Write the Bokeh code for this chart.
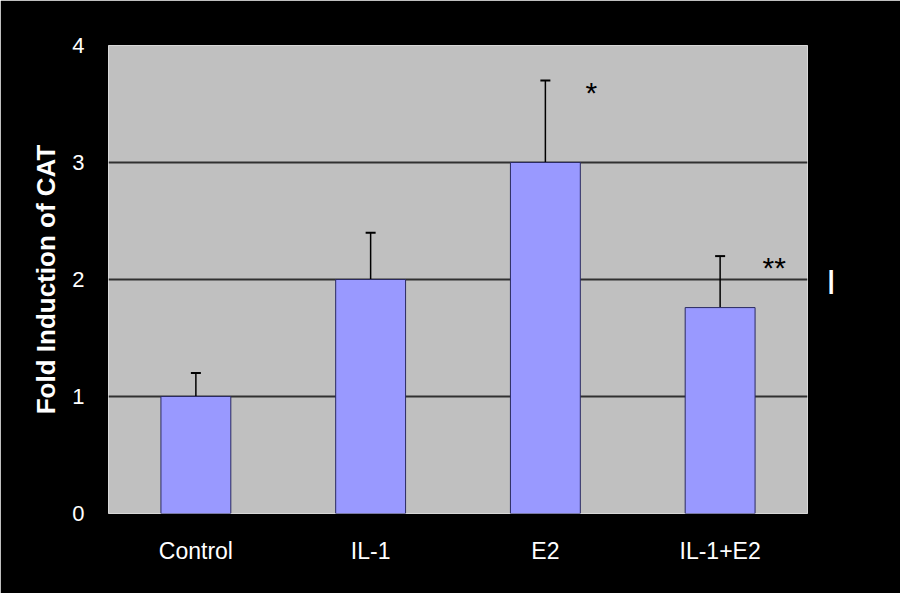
from bokeh.plotting import figure
from bokeh.models import ColumnDataSource, Whisker, TeeHead, LinearAxis, FixedTicker
from bokeh.core.properties import value
from bokeh.embed import file_html
from bokeh.resources import INLINE

categories = ["Control", "IL-1", "E2", "IL-1+E2"]
fold_induction = [1.0, 2.0, 3.0, 1.76]
error_upper = [1.2, 2.4, 3.7, 2.2]
sig_categories = ["E2", "IL-1+E2"]
sig_marks = ["*", "**"]
sig_y = [3.63, 2.14]
y_ticks = [0, 1, 2, 3, 4]

src = ColumnDataSource(dict(cat=categories, val=fold_induction, up=error_upper))

p = figure(width=900, height=593, x_range=categories, y_range=(0, 4),
           output_backend="svg", toolbar_location=None,
           background_fill_color="#c0c0c0", border_fill_color="black",
           min_border_left=108, min_border_right=93, min_border_top=45, min_border_bottom=80)

p.vbar(x="cat", top="val", width=0.4, source=src, fill_color="#9999ff",
       line_color="#2a2a60", line_width=1)

w = Whisker(base="cat", upper="up", lower="val", source=src,
            line_color="black", line_width=1.5,
            upper_head=TeeHead(size=10, line_color="black", line_width=2), lower_head=None)
p.add_layout(w)

sig_src = ColumnDataSource(dict(cat=sig_categories, y=sig_y, txt=sig_marks))
sig_src.data["dx"] = [46, 54]
p.text(x="cat", y="y", text="txt", source=sig_src, x_offset="dx",
       text_align="center", text_baseline="middle", text_color="black",
       text_font=value("Liberation Sans"), text_font_size="30px", y_offset=4)

p.outline_line_color = "#d8d8d8"
p.xgrid.grid_line_color = None
p.ygrid.grid_line_color = "#303030"
p.ygrid.grid_line_width = 2
p.ygrid.ticker = FixedTicker(ticks=[1, 2, 3])

p.yaxis.ticker = FixedTicker(ticks=y_ticks)
p.yaxis.axis_label = "Fold Induction of CAT"
p.yaxis.axis_label_text_color = "white"
p.yaxis.axis_label_text_font = "Liberation Sans"
p.yaxis.axis_label_text_font_style = "bold"
p.yaxis.axis_label_text_font_size = "26px"
p.yaxis.axis_label_standoff = 8
p.yaxis.major_label_text_color = "white"
p.yaxis.major_label_text_font = "Liberation Sans"
p.yaxis.major_label_text_font_size = "22px"
p.yaxis.major_label_standoff = 18

p.xaxis.major_label_text_color = "white"
p.xaxis.major_label_text_font = "Liberation Sans"
p.xaxis.major_label_text_font_size = "23px"
p.xaxis.major_label_standoff = 18

# small white mark at the right edge of the original image
mark_axis = LinearAxis(ticker=FixedTicker(ticks=[2]), major_label_overrides={2: "|"})
mark_axis.major_label_text_color = "white"
mark_axis.major_label_text_font = "Liberation Sans"
mark_axis.major_label_text_font_style = "bold"
mark_axis.major_label_text_font_size = "26px"
mark_axis.major_label_standoff = 14
p.add_layout(mark_axis, "right")

for ax in (p.xaxis[0], p.yaxis[0], mark_axis):
    ax.axis_line_color = None
    ax.major_tick_line_color = None
    ax.minor_tick_line_color = None

open("out.html", "w").write(file_html(p, INLINE))
